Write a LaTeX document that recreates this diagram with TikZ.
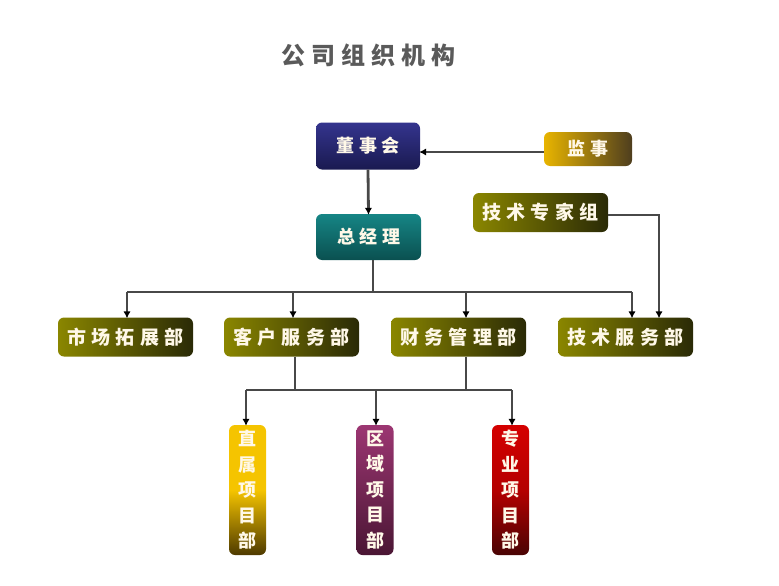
\documentclass[tikz,border=0pt]{standalone}
\usepackage{fontspec}
\newfontfamily\cjk{Noto Sans CJK SC}
\usetikzlibrary{arrows.meta}
\definecolor{txt}{HTML}{FFF8E8}
\definecolor{linec}{HTML}{484848}
\definecolor{titlec}{HTML}{5A5A5A}
\definecolor{blueT}{HTML}{34348E}
\definecolor{blueB}{HTML}{1A1A50}
\definecolor{tealT}{HTML}{168585}
\definecolor{tealB}{HTML}{0A5050}
\definecolor{goldL}{HTML}{E8B400}
\definecolor{goldR}{HTML}{4E3E1E}
\definecolor{oliveL}{HTML}{8A8600}
\definecolor{oliveR}{HTML}{2A2A06}
\definecolor{yelT}{HTML}{F5C400}
\definecolor{yelB}{HTML}{4E3A00}
\definecolor{magT}{HTML}{9C3672}
\definecolor{magB}{HTML}{4A1634}
\definecolor{redT}{HTML}{D40000}
\definecolor{redB}{HTML}{4A0404}
\tikzset{
  basebox/.style={rounded corners=6pt, inner sep=0pt, text=txt,
    font=\cjk\bfseries\fontsize{18}{18}\selectfont\addfontfeature{LetterSpace=25}},
  bluebox/.style={basebox, minimum width=104pt, minimum height=47pt, top color=blueT, bottom color=blueB},
  tealbox/.style={basebox, minimum width=105pt, minimum height=46pt, top color=tealT, bottom color=tealB},
  goldbox/.style={basebox, minimum width=88pt, minimum height=34pt, left color=goldL, right color=goldR},
  olivebox/.style={basebox, minimum width=135pt, minimum height=39pt, left color=oliveL, right color=oliveR,
    font=\cjk\bfseries\fontsize{19}{19}\selectfont\addfontfeature{LetterSpace=28}},
  vbox/.style={rounded corners=6pt, inner sep=0pt, text=txt, minimum width=37pt, minimum height=130pt,
    align=center, font=\cjk\bfseries\fontsize{18}{25.5}\selectfont},
  conn/.style={draw=linec, line width=2.8pt},
  arr/.style={conn, -{Latex[length=7pt,width=7.5pt,color=black]}, shorten >=-1pt},
}
\begin{document}
\begin{tikzpicture}[x=1pt,y=-1pt]
\useasboundingbox (0,0) rectangle (779,586);
\node[text=titlec, font=\cjk\bfseries\fontsize{24}{24}\selectfont\addfontfeature{LetterSpace=25}] (title) at (368,55) {公司组织机构};

\node[bluebox] (dsh) at (368,146) {董事会};
\node[goldbox] (js) at (588,149) {监事};
\node[tealbox] (zjl) at (368.5,237) {总经理};
\node[olivebox] (zjz) at (540.5,212.5) {技术专家组};

\node[olivebox] (sc) at (125.5,337) {市场拓展部};
\node[olivebox] (kh) at (291.5,337) {客户服务部};
\node[olivebox] (cw) at (458.5,337) {财务管理部};
\node[olivebox] (jf) at (625.5,337) {技术服务部};

\node[vbox, top color=yelT, bottom color=yelB, middle color=yelT] (zs) at (247.5,490) {直\\属\\项\\目\\部};
\node[vbox, top color=magT, bottom color=magB] (qy) at (375,490) {区\\域\\项\\目\\部};
\node[vbox, top color=redT, bottom color=redB, middle color=redT!85!black] (zy) at (510.5,490) {专\\业\\项\\目\\部};

% connectors
\draw[arr] (js.west |- 0,152) -- (dsh.east |- 0,152);
\draw[arr] (dsh.south) -- (zjl.north);

\coordinate (top) at (373,292);
\draw[conn] ([xshift=4.5pt]zjl.south) -- (top);
\coordinate (b1) at (127,292);
\coordinate (b2) at (293,292);
\coordinate (b3) at (466,292);
\coordinate (b4) at (632,292);
\draw[conn] (b1) -- (b4);
\draw[arr] (b1) -- (b1 |- sc.north);
\draw[arr] (b2) -- (b2 |- kh.north);
\draw[arr] (b3) -- (b3 |- cw.north);
\draw[arr] (b4) -- (b4 |- jf.north);

\coordinate (ec) at (659,215);
\draw[arr] (zjz.east |- ec) -- (ec) -- (ec |- jf.north);

\coordinate (k1) at (295,390);
\coordinate (k2) at (466,390);
\draw[conn] (k1 |- kh.south) -- (k1);
\draw[conn] (k2 |- cw.south) -- (k2);
\coordinate (l1) at (246,390);
\coordinate (l2) at (376,390);
\coordinate (l3) at (512,390);
\draw[conn] (l1) -- (l3);
\draw[arr] (l1) -- (l1 |- zs.north);
\draw[arr] (l2) -- (l2 |- qy.north);
\draw[arr] (l3) -- (l3 |- zy.north);
\end{tikzpicture}
\end{document}
